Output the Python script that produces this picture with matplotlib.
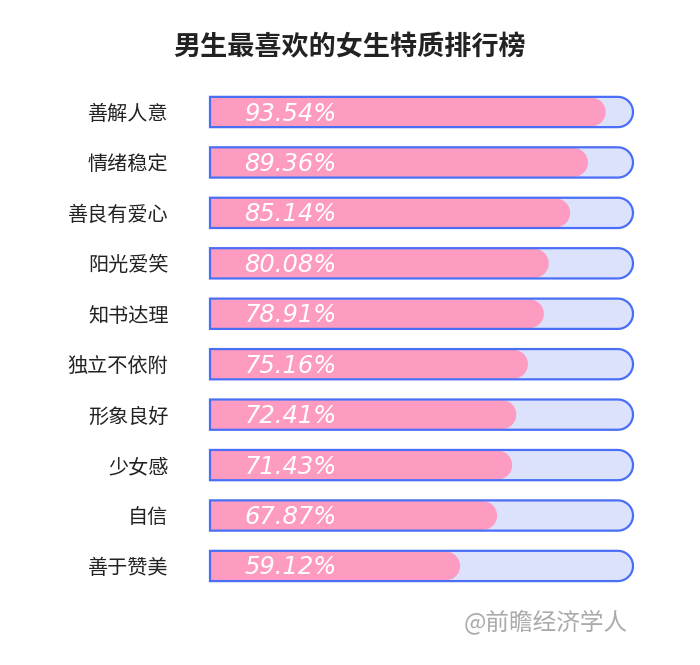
import matplotlib
matplotlib.use("Agg")
import matplotlib.pyplot as plt
import numpy as np
from matplotlib.patches import Polygon

plt.rcParams['font.family'] = ['Noto Sans CJK SC', 'DejaVu Sans']

traits = ["善解人意", "情绪稳定", "善良有爱心", "阳光爱笑", "知书达理",
          "独立不依附", "形象良好", "少女感", "自信", "善于赞美"]
shares = [93.54, 89.36, 85.14, 80.08, 78.91, 75.16, 72.41, 71.43, 67.87, 59.12]
full_scale = 100

PINK = "#fd9bc0"
TRACK = "#dce2fc"
EDGE = "#4a6ef5"

W, H = 700, 665
fig = plt.figure(figsize=(W / 100, H / 100), dpi=100)

# axes: x 0..100 -> px 210..633, rows spaced ~50.4 px
ax_left, ax_right = 210, 633
row_px = 50.44
top_px = 112 - row_px / 2
bottom_px = top_px + row_px * len(traits)
ax = fig.add_axes([ax_left / W, (H - bottom_px) / H,
                   (ax_right - ax_left) / W, (bottom_px - top_px) / H])
ax.set_xlim(0, full_scale)
ax.set_ylim(len(traits) - 0.5, -0.5)

px_per_x = (ax_right - ax_left) / full_scale


def capsule(x1, yc, h):
    # square left end at x=0, half-round right end (radius in px kept equal on both axes)
    ry = h / 2
    rx = ry * row_px / px_per_x
    cx = max(x1 - rx, 0)
    t = np.linspace(-np.pi / 2, np.pi / 2, 40)
    arc = np.column_stack([cx + rx * np.cos(t), yc + ry * np.sin(t)])
    return np.vstack([[0, yc - ry], arc, [0, yc + ry]])


bar_h = 0.6
for i, v in enumerate(shares):
    ax.add_patch(Polygon(capsule(full_scale, i, bar_h), closed=True,
                         facecolor=TRACK, edgecolor="none", clip_on=False, zorder=1))
    ax.add_patch(Polygon(capsule(v, i, bar_h * 0.95), closed=True,
                         facecolor=PINK, edgecolor="none", clip_on=False, zorder=2))
    ax.add_patch(Polygon(capsule(full_scale, i, bar_h), closed=True,
                         facecolor="none", edgecolor=EDGE, linewidth=1.6,
                         clip_on=False, zorder=3))
    ax.text(8.2, i + 0.03, f"{v:.2f}%", color="white", fontsize=17.5,
            fontstyle="italic", family="DejaVu Sans", ha="left", va="center", zorder=4)

ax.set_yticks(range(len(traits)))
ax.set_yticklabels(traits, fontsize=14.5, color="#222222")
ax.tick_params(axis="y", length=0, pad=30)
ax.set_xticks([])
for s in ax.spines.values():
    s.set_visible(False)
ax.patch.set_alpha(0)

fig.text(350 / W, 1 - 47 / H, "男生最喜欢的女生特质排行榜", ha="center", va="center",
         fontsize=19.5, fontweight="bold", color="#222222")
fig.text(628 / W, 1 - 622 / H, "@前瞻经济学人", ha="right", va="center",
         fontsize=17, color="#aaaaaa")

fig.savefig("out.png", dpi=100)
